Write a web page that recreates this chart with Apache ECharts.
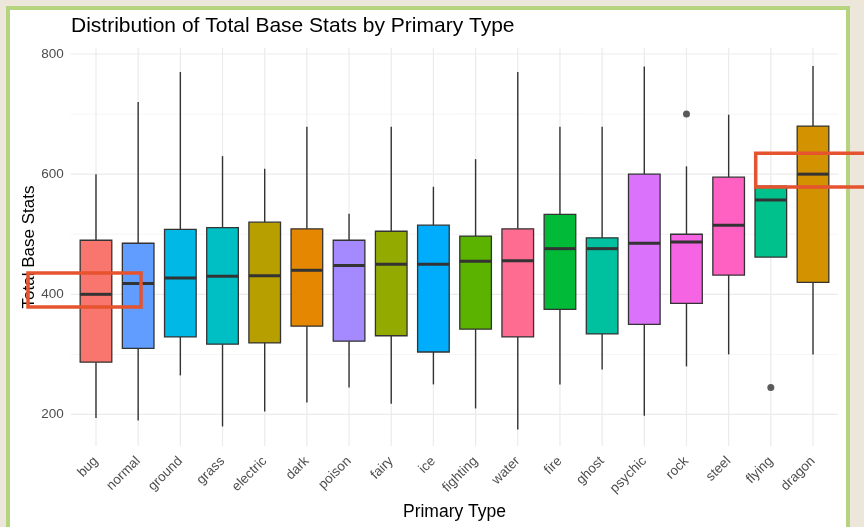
<!DOCTYPE html>
<html>
<head>
<meta charset="utf-8">
<title>Distribution of Total Base Stats by Primary Type</title>
<script src="https://cdn.jsdelivr.net/npm/echarts@6/dist/echarts.min.js"></script>
<style>
    html, body { margin: 0; padding: 0; background: #ede6da; }
    #main { width: 864px; height: 527px; }
</style>
</head>
<body>
<div id="main"></div>
<script>
    // types, ordered by median as in the plot
    const types = ['bug', 'normal', 'ground', 'grass', 'electric', 'dark', 'poison', 'fairy', 'ice',
        'fighting', 'water', 'fire', 'ghost', 'psychic', 'rock', 'steel', 'flying', 'dragon'];
    const lowWhisker = [194, 190, 265, 180, 205, 220, 245, 218, 250, 210, 175, 250, 275, 198, 280, 300, 462, 300];
    const q1 = [287, 310, 329, 317, 319, 347, 322, 331, 304, 342, 329, 375, 334, 350, 385, 432, 462, 420];
    const median = [400, 418, 427, 430, 431, 440, 448, 450, 450, 455, 456, 476, 476, 485, 487, 515, 557, 600];
    const q3 = [490, 485, 508, 511, 520, 509, 490, 505, 515, 497, 509, 533, 494, 600, 500, 595, 580, 680];
    const highWhisker = [600, 720, 770, 630, 609, 679, 534, 679, 579, 625, 770, 679, 679, 779, 613, 699, 580, 780];
    const outlierTypes = ['rock', 'flying'];
    const outlierValues = [700, 245];
    const fillColors = ['#F8766D', '#619CFF', '#00B8E5', '#00BFC4', '#B79F00', '#E58700', '#A58AFF', '#93AA00', '#00ACFC',
        '#5BB300', '#FF6C91', '#00BA38', '#00C19F', '#DB72FB', '#F564E3', '#FF61C3', '#00C08B', '#D39200'];
    const gridValues = [200, 300, 400, 500, 600, 700, 800];
    const tickValues = [200, 400, 600, 800];
    const tickLabels = ['200', '400', '600', '800'];

    const chart = echarts.init(document.getElementById('main'));

    const boxData = types.map((t, i) => [i, lowWhisker[i], q1[i], median[i], q3[i], highWhisker[i]]);
    const outlierData = outlierTypes.map((t, i) => [types.indexOf(t), outlierValues[i]]);

    const lineCol = '#333333';
    const gridCol = '#ebebeb';

    function renderBox(params, api) {
        const i = api.value(0);
        const w = api.size([1, 0])[0] * 0.75;
        const x = api.coord([i, 0])[0];
        const yLo = api.coord([i, api.value(1)])[1];
        const yQ1 = api.coord([i, api.value(2)])[1];
        const yMed = api.coord([i, api.value(3)])[1];
        const yQ3 = api.coord([i, api.value(4)])[1];
        const yHi = api.coord([i, api.value(5)])[1];
        return {
            type: 'group',
            children: [
                { type: 'line', shape: { x1: x, y1: yHi, x2: x, y2: yQ3 }, style: { stroke: lineCol, lineWidth: 1.4 } },
                { type: 'line', shape: { x1: x, y1: yQ1, x2: x, y2: yLo }, style: { stroke: lineCol, lineWidth: 1.4 } },
                {
                    type: 'rect',
                    shape: { x: x - w / 2, y: yQ3, width: w, height: yQ1 - yQ3 },
                    style: { fill: fillColors[i], stroke: lineCol, lineWidth: 1.3 }
                },
                { type: 'line', shape: { x1: x - w / 2, y1: yMed, x2: x + w / 2, y2: yMed }, style: { stroke: lineCol, lineWidth: 3 } }
            ]
        };
    }

    // horizontal grid, panel is 0.1 band wider than the category bands on each side
    function renderHGrid(params, api) {
        const cs = params.coordSys;
        const ext = api.size([1, 0])[0] * 0.1;
        const v = api.value(1);
        const y = api.coord([0, v])[1];
        const major = tickValues.indexOf(v) >= 0;
        const children = [{
            type: 'line',
            shape: { x1: cs.x - ext, y1: y, x2: cs.x + cs.width + ext, y2: y },
            style: { stroke: major ? gridCol : '#f3f3f3', lineWidth: major ? 1.2 : 0.8 }
        }];
        if (major) {
            children.push({
                type: 'text',
                x: cs.x - ext - 7,
                y: y,
                style: {
                    text: tickLabels[tickValues.indexOf(v)],
                    align: 'right',
                    verticalAlign: 'middle',
                    fill: '#4d4d4d',
                    fontSize: 13.5,
                    fontFamily: 'Liberation Sans'
                }
            });
        }
        return { type: 'group', children: children };
    }

    function renderVGrid(params, api) {
        const cs = params.coordSys;
        const x = api.coord([api.value(0), 0])[0];
        return {
            type: 'line',
            shape: { x1: x, y1: cs.y, x2: x, y2: cs.y + cs.height },
            style: { stroke: gridCol, lineWidth: 1.2 }
        };
    }

    const option = {
        backgroundColor: '#ede6da',
        textStyle: { fontFamily: 'Liberation Sans' },
        animation: false,
        title: {
            text: 'Distribution of Total Base Stats by Primary Type',
            left: 66,
            top: 11,
            textStyle: { fontSize: 21, fontWeight: 'normal', color: '#000' }
        },
        grid: { left: 74.9, right: 29.9, top: 48, bottom: 81 },
        xAxis: {
            type: 'category',
            data: types,
            name: 'Primary Type',
            nameLocation: 'middle',
            nameGap: 54,
            nameTextStyle: { fontSize: 17.5, color: '#000' },
            axisLine: { show: false },
            axisTick: { show: false },
            splitLine: { show: false },
            axisLabel: { rotate: 45, margin: 13, fontSize: 13.5, color: '#4d4d4d', interval: 0 }
        },
        yAxis: {
            type: 'value',
            min: 147.5,
            max: 810,
            name: 'Total Base Stats',
            nameLocation: 'middle',
            nameGap: 37,
            nameTextStyle: { fontSize: 17, color: '#000' },
            axisLine: { show: false },
            axisTick: { show: false },
            axisLabel: { show: false },
            splitLine: { show: false }
        },
        graphic: [
            {
                type: 'rect',
                z: -10,
                shape: { x: 8, y: 8, width: 840, height: 540 },
                style: { fill: '#ffffff', stroke: '#b6d37f', lineWidth: 4 }
            },
            {
                type: 'rect',
                z: 100,
                shape: { x: 28, y: 273, width: 113, height: 34 },
                style: { fill: null, stroke: '#e5532f', lineWidth: 3.5 }
            },
            {
                type: 'rect',
                z: 100,
                shape: { x: 755.7, y: 153.3, width: 130, height: 33.7 },
                style: { fill: null, stroke: '#e5532f', lineWidth: 3.5 }
            }
        ],
        series: [
            {
                type: 'custom',
                z: 1,
                silent: true,
                renderItem: renderHGrid,
                encode: { x: 0, y: 1 },
                data: gridValues.map(v => [0, v])
            },
            {
                type: 'custom',
                z: 1,
                silent: true,
                renderItem: renderVGrid,
                encode: { x: 0, y: 1 },
                data: types.map((t, i) => [i, 500])
            },
            {
                name: 'Total Base Stats',
                type: 'custom',
                z: 3,
                renderItem: renderBox,
                encode: { x: 0, y: [1, 2, 3, 4, 5] },
                data: boxData
            },
            {
                name: 'outliers',
                type: 'scatter',
                z: 4,
                symbolSize: 7,
                itemStyle: { color: lineCol },
                data: outlierData
            }
        ]
    };

    chart.setOption(option);
</script>
</body>
</html>
